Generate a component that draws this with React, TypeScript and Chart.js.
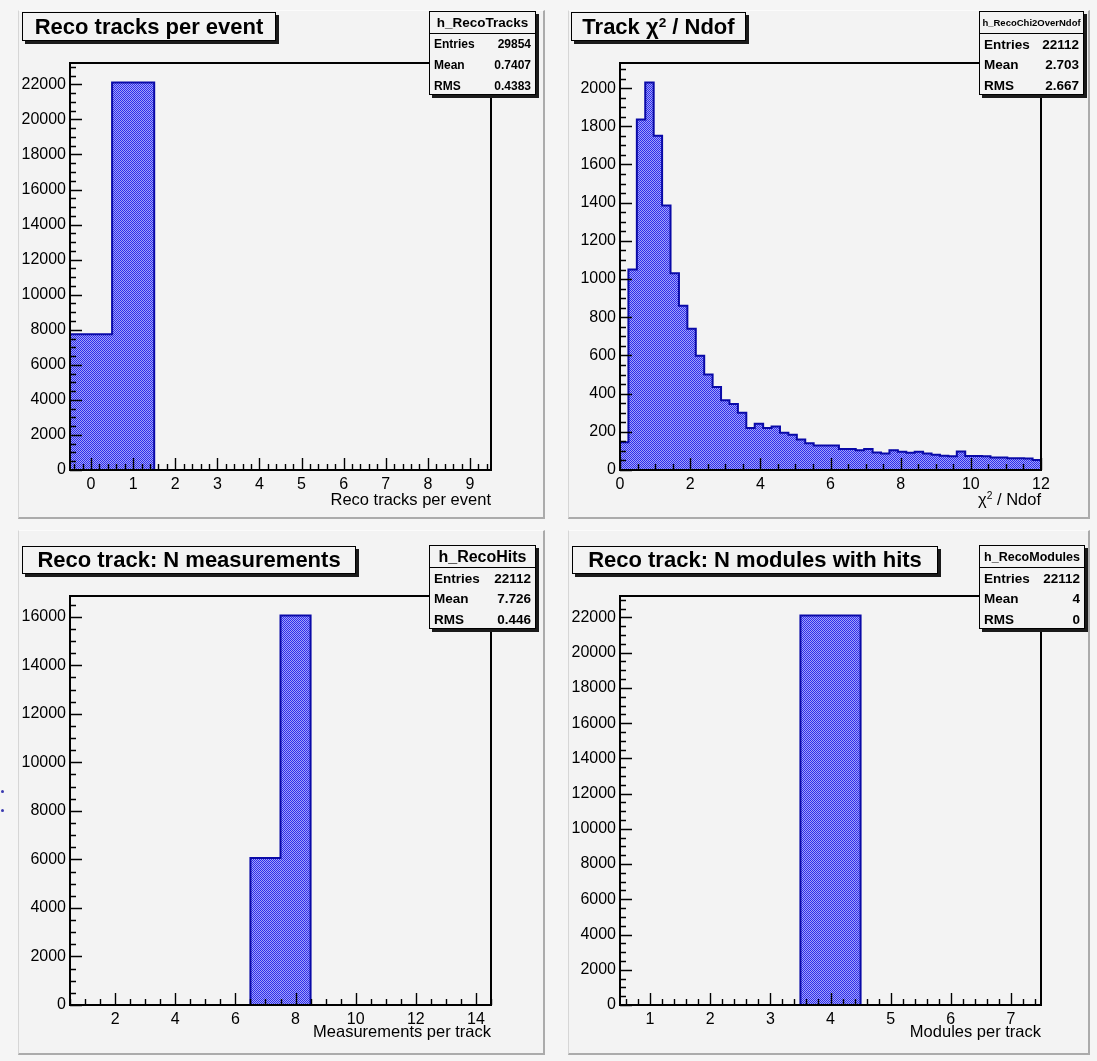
import React, { useEffect, useRef } from "react";
import { Chart, registerables } from "chart.js";

Chart.register(...registerables);

const FONT = '"Liberation Sans", Arial, Helvetica, sans-serif';

// ---------------- Data ----------------
// Panel 1: Reco tracks per event (bins of width 1, centred on integers)
const TRACKS_BINS = [0, 1, 2, 3, 4, 5, 6, 7, 8, 9];
const TRACKS_COUNTS = [7742, 22112, 0, 0, 0, 0, 0, 0, 0, 0];
const TRACKS_X_TICKS = [0, 1, 2, 3, 4, 5, 6, 7, 8, 9];
const TRACKS_Y_TICKS = [0, 2000, 4000, 6000, 8000, 10000, 12000, 14000, 16000, 18000, 20000, 22000];
const TRACKS_STATS = [["Entries", "29854"], ["Mean", "0.7407"], ["RMS", "0.4383"]];

// Panel 2: Track chi2 / Ndof (50 bins from 0 to 12)
const CHI2_BIN_WIDTH = 0.24;
const CHI2_COUNTS = [
  145, 1050, 1835, 2030, 1750, 1385, 1030, 860, 740, 598,
  500, 435, 365, 345, 300, 220, 242, 220, 228, 195,
  185, 160, 140, 128, 128, 128, 110, 110, 104, 110,
  92, 87, 104, 96, 90, 96, 86, 80, 74, 72,
  97, 73, 73, 72, 66, 66, 61, 61, 60, 52,
];
const CHI2_BINS = CHI2_COUNTS.map((_, i) => (i + 0.5) * CHI2_BIN_WIDTH);
const CHI2_X_TICKS = [0, 2, 4, 6, 8, 10, 12];
const CHI2_Y_TICKS = [0, 200, 400, 600, 800, 1000, 1200, 1400, 1600, 1800, 2000];
const CHI2_STATS = [["Entries", "22112"], ["Mean", "2.703"], ["RMS", "2.667"]];

// Panel 3: N measurements per track
const HITS_BINS = [1, 2, 3, 4, 5, 6, 7, 8, 9, 10, 11, 12, 13, 14];
const HITS_COUNTS = [0, 0, 0, 0, 0, 0, 6059, 16053, 0, 0, 0, 0, 0, 0];
const HITS_X_TICKS = [2, 4, 6, 8, 10, 12, 14];
const HITS_Y_TICKS = [0, 2000, 4000, 6000, 8000, 10000, 12000, 14000, 16000];
const HITS_STATS = [["Entries", "22112"], ["Mean", "7.726"], ["RMS", "0.446"]];

// Panel 4: N modules with hits
const MODULES_BINS = [1, 2, 3, 4, 5, 6, 7];
const MODULES_COUNTS = [0, 0, 0, 22112, 0, 0, 0];
const MODULES_X_TICKS = [1, 2, 3, 4, 5, 6, 7];
const MODULES_Y_TICKS = [0, 2000, 4000, 6000, 8000, 10000, 12000, 14000, 16000, 18000, 20000, 22000];
const MODULES_STATS = [["Entries", "22112"], ["Mean", "4"], ["RMS", "0"]];

// ---------------- Panel specs ----------------
type Box = { x: number; y: number; w: number; h: number };
type Frame = { l: number; t: number; r: number; b: number };
type Spec = {
  pad: Box;
  frame: Frame;
  bins: number[];
  counts: number[];
  binWidth: number;
  xMin: number;
  xMax: number;
  yMax: number;
  xTicks: number[];
  yTicks: number[];
  xMinor: number;
  yMinor: number;
  title: React.ReactNode;
  titleBox: Box;
  statsName: string;
  statsNameSize: number;
  statsRowSize: number;
  stats: string[][];
  statsBox: Box;
  xTitle: React.ReactNode;
  xTitleY: number;
};

const Sup = ({ children }: { children: React.ReactNode }) => (
  <sup style={{ fontSize: "0.62em", verticalAlign: "0.55em", lineHeight: 0 }}>{children}</sup>
);

const SPECS: Spec[] = [
  {
    pad: { x: 18, y: 10, w: 527, h: 509 },
    frame: { l: 70, t: 63, r: 491, b: 470 },
    bins: TRACKS_BINS,
    counts: TRACKS_COUNTS,
    binWidth: 1,
    xMin: -0.5,
    xMax: 9.5,
    yMax: 23217.6,
    xTicks: TRACKS_X_TICKS,
    yTicks: TRACKS_Y_TICKS,
    xMinor: 0.2,
    yMinor: 500,
    title: "Reco tracks per event",
    titleBox: { x: 22, y: 12, w: 254, h: 29 },
    statsName: "h_RecoTracks",
    statsNameSize: 13.5,
    statsRowSize: 12,
    stats: TRACKS_STATS,
    statsBox: { x: 429, y: 11, w: 107, h: 84 },
    xTitle: "Reco tracks per event",
    xTitleY: 499,
  },
  {
    pad: { x: 568, y: 10, w: 522, h: 509 },
    frame: { l: 620, t: 63, r: 1041, b: 470 },
    bins: CHI2_BINS,
    counts: CHI2_COUNTS,
    binWidth: CHI2_BIN_WIDTH,
    xMin: 0,
    xMax: 12,
    yMax: 2131.5,
    xTicks: CHI2_X_TICKS,
    yTicks: CHI2_Y_TICKS,
    xMinor: 0.5,
    yMinor: 50,
    title: (
      <span>
        Track χ<Sup>2</Sup> / Ndof
      </span>
    ),
    titleBox: { x: 571, y: 12, w: 175, h: 29 },
    statsName: "h_RecoChi2OverNdof",
    statsNameSize: 9.5,
    statsRowSize: 13.5,
    stats: CHI2_STATS,
    statsBox: { x: 979, y: 11, w: 105, h: 84 },
    xTitle: (
      <span>
        χ<Sup>2</Sup> / Ndof
      </span>
    ),
    xTitleY: 499,
  },
  {
    pad: { x: 18, y: 530, w: 527, h: 525 },
    frame: { l: 70, t: 596, r: 491, b: 1005 },
    bins: HITS_BINS,
    counts: HITS_COUNTS,
    binWidth: 1,
    xMin: 0.5,
    xMax: 14.5,
    yMax: 16855.6,
    xTicks: HITS_X_TICKS,
    yTicks: HITS_Y_TICKS,
    xMinor: 0.5,
    yMinor: 500,
    title: "Reco track: N measurements",
    titleBox: { x: 22, y: 546, w: 334, h: 28 },
    statsName: "h_RecoHits",
    statsNameSize: 16,
    statsRowSize: 13.5,
    stats: HITS_STATS,
    statsBox: { x: 429, y: 545, w: 107, h: 84 },
    xTitle: "Measurements per track",
    xTitleY: 1031,
  },
  {
    pad: { x: 568, y: 530, w: 522, h: 525 },
    frame: { l: 620, t: 596, r: 1041, b: 1005 },
    bins: MODULES_BINS,
    counts: MODULES_COUNTS,
    binWidth: 1,
    xMin: 0.5,
    xMax: 7.5,
    yMax: 23217.6,
    xTicks: MODULES_X_TICKS,
    yTicks: MODULES_Y_TICKS,
    xMinor: 0.2,
    yMinor: 500,
    title: "Reco track: N modules with hits",
    titleBox: { x: 572, y: 546, w: 366, h: 28 },
    statsName: "h_RecoModules",
    statsNameSize: 12.5,
    statsRowSize: 13.5,
    stats: MODULES_STATS,
    statsBox: { x: 979, y: 545, w: 106, h: 84 },
    xTitle: "Modules per track",
    xTitleY: 1031,
  },
];

// ---------------- Plugin: ROOT-like frame and inward ticks ----------------
const rootFrame = {
  id: "rootFrame",
  afterDraw(chart: any, _args: any, opts: any) {
    const { ctx, chartArea: a, scales } = chart;
    const xs = scales.x;
    const ys = scales.y;
    const isMajor = (v: number, majors: number[]) => majors.some((m) => Math.abs(m - v) < 1e-6);
    ctx.save();
    ctx.strokeStyle = "#000";
    ctx.lineWidth = 1.4;
    ctx.beginPath();
    const kx0 = Math.ceil(xs.min / opts.xMinor - 1e-9);
    const kx1 = Math.floor(xs.max / opts.xMinor + 1e-9);
    for (let k = kx0; k <= kx1; k++) {
      const v = k * opts.xMinor;
      const px = Math.round(xs.getPixelForValue(v)) + 0.5;
      const len = isMajor(v, opts.xMajor) ? 12 : 6;
      ctx.moveTo(px, a.bottom);
      ctx.lineTo(px, a.bottom - len);
    }
    const ky0 = Math.ceil(ys.min / opts.yMinor - 1e-9);
    const ky1 = Math.floor(ys.max / opts.yMinor + 1e-9);
    for (let k = ky0; k <= ky1; k++) {
      const v = k * opts.yMinor;
      const py = Math.round(ys.getPixelForValue(v)) + 0.5;
      const len = isMajor(v, opts.yMajor) ? 12 : 6;
      ctx.moveTo(a.left, py);
      ctx.lineTo(a.left + len, py);
    }
    ctx.stroke();
    ctx.lineWidth = 2;
    ctx.strokeRect(a.left, a.top, a.right - a.left, a.bottom - a.top);
    ctx.restore();
  },
};

function makePattern(ctx: CanvasRenderingContext2D) {
  const c = document.createElement("canvas");
  c.width = 2;
  c.height = 2;
  const g = c.getContext("2d")!;
  g.fillStyle = "#a2a2f8";
  g.fillRect(0, 0, 2, 2);
  g.fillStyle = "#2e2eec";
  g.fillRect(0, 0, 1, 1);
  g.fillRect(1, 1, 1, 1);
  return ctx.createPattern(c, "repeat");
}

function HistPanel({ spec }: { spec: Spec }) {
  const ref = useRef<HTMLCanvasElement | null>(null);
  useEffect(() => {
    const canvas = ref.current;
    if (!canvas) return;
    const ctx = canvas.getContext("2d")!;
    const pattern = makePattern(ctx);
    const { pad, frame } = spec;
    const half = spec.binWidth / 2;
    const barData = spec.bins.map((c, i) => ({ x: c, y: spec.counts[i] }));
    const outline: { x: number; y: number }[] = [{ x: spec.bins[0] - half, y: 0 }];
    spec.bins.forEach((c, i) => outline.push({ x: c - half, y: spec.counts[i] }));
    outline.push({ x: spec.bins[spec.bins.length - 1] + half, y: 0 });

    const tickFont = { family: FONT, size: 16 };
    const chart = new Chart(canvas, {
      type: "bar",
      data: {
        datasets: [
          {
            type: "bar",
            data: barData,
            backgroundColor: pattern as any,
            borderWidth: 0,
            barPercentage: 1,
            categoryPercentage: 1,
            order: 2,
          } as any,
          {
            type: "line",
            data: outline,
            stepped: true,
            borderColor: "#0a0aa8",
            borderWidth: 2,
            pointRadius: 0,
            fill: false,
            tension: 0,
            order: 1,
          } as any,
        ],
      },
      options: {
        animation: false,
        responsive: false,
        maintainAspectRatio: false,
        events: [],
        layout: {
          padding: {
            left: 0,
            top: frame.t - pad.y,
            right: pad.x + pad.w - frame.r,
            bottom: 0,
          },
        },
        plugins: {
          legend: { display: false },
          tooltip: { enabled: false },
          title: { display: false },
          rootFrame: {
            xMinor: spec.xMinor,
            yMinor: spec.yMinor,
            xMajor: spec.xTicks,
            yMajor: spec.yTicks,
          },
        } as any,
        scales: {
          x: {
            type: "linear",
            min: spec.xMin,
            max: spec.xMax,
            offset: false,
            grid: { display: false, drawTicks: false, offset: false },
            border: { display: false },
            afterBuildTicks: (s: any) => {
              s.ticks = spec.xTicks.map((v) => ({ value: v }));
            },
            afterFit: (s: any) => {
              s.height = pad.y + pad.h - frame.b;
            },
            ticks: {
              autoSkip: false,
              maxRotation: 0,
              minRotation: 0,
              padding: 5,
              color: "#000",
              font: tickFont,
              callback: (v: any) => String(v),
            },
          },
          y: {
            type: "linear",
            min: 0,
            max: spec.yMax,
            grid: { display: false, drawTicks: false },
            border: { display: false },
            afterBuildTicks: (s: any) => {
              s.ticks = spec.yTicks.map((v) => ({ value: v }));
            },
            afterFit: (s: any) => {
              s.width = frame.l - pad.x;
            },
            ticks: {
              autoSkip: false,
              padding: 4,
              color: "#000",
              font: tickFont,
              callback: (v: any) => String(v),
            },
          },
        } as any,
      },
      plugins: [rootFrame as any],
    });
    return () => chart.destroy();
  }, [spec]);

  const { pad, titleBox, statsBox, frame } = spec;
  const headerH = 22;
  const rowH = (statsBox.h - headerH) / 3;
  return (
    <>
      <div
        style={{
          position: "absolute",
          left: pad.x,
          top: pad.y,
          width: pad.w,
          height: pad.h,
          background: "#f3f3f3",
          boxSizing: "border-box",
          borderTop: "1px solid #fbfbfb",
          borderLeft: "1px solid #d6d6d6",
          borderRight: "2px solid #ababab",
          borderBottom: "2px solid #ababab",
        }}
      />
      <canvas
        ref={ref}
        width={pad.w}
        height={pad.h}
        style={{ position: "absolute", left: pad.x, top: pad.y, width: pad.w, height: pad.h }}
      />
      {/* title box */}
      <div
        style={{
          position: "absolute",
          left: titleBox.x,
          top: titleBox.y,
          width: titleBox.w,
          height: titleBox.h,
          boxSizing: "border-box",
          border: "1.5px solid #000",
          background: "#f3f3f3",
          boxShadow: "3px 3px 0 #1a1a1a",
          fontFamily: FONT,
          fontWeight: "bold",
          fontSize: 22,
          color: "#000",
          display: "flex",
          alignItems: "center",
          justifyContent: "center",
          whiteSpace: "nowrap",
        }}
      >
        {spec.title}
      </div>
      {/* stats box */}
      <div
        style={{
          position: "absolute",
          left: statsBox.x,
          top: statsBox.y,
          width: statsBox.w,
          height: statsBox.h,
          boxSizing: "border-box",
          border: "1px solid #000",
          background: "#f3f3f3",
          boxShadow: "3px 3px 0 #1a1a1a",
          fontFamily: FONT,
          fontWeight: "bold",
          color: "#000",
        }}
      >
        <div
          style={{
            height: headerH - 1,
            borderBottom: "1px solid #000",
            display: "flex",
            alignItems: "center",
            justifyContent: "center",
            fontSize: spec.statsNameSize,
            whiteSpace: "nowrap",
          }}
        >
          {spec.statsName}
        </div>
        {spec.stats.map(([k, v]) => (
          <div
            key={k}
            style={{
              height: rowH,
              display: "flex",
              alignItems: "center",
              justifyContent: "space-between",
              padding: "0 4px",
              fontSize: spec.statsRowSize,
              whiteSpace: "nowrap",
            }}
          >
            <span>{k}</span>
            <span>{v}</span>
          </div>
        ))}
      </div>
      {/* x axis title */}
      <div
        style={{
          position: "absolute",
          right: 1097 - frame.r,
          top: spec.xTitleY - 10,
          height: 20,
          lineHeight: "20px",
          fontFamily: FONT,
          fontSize: 16.5,
          color: "#000",
          whiteSpace: "nowrap",
        }}
      >
        {spec.xTitle}
      </div>
    </>
  );
}

export default function App() {
  return (
    <div
      style={{
        position: "absolute",
        left: 0,
        top: 0,
        width: 1097,
        height: 1061,
        background: "#f5f5f5",
        overflow: "hidden",
      }}
    >
      {SPECS.map((s, i) => (
        <HistPanel key={i} spec={s} />
      ))}
      <div style={{ position: "absolute", left: 1, top: 790, width: 3, height: 3, background: "#3b3bb0", borderRadius: 2 }} />
      <div style={{ position: "absolute", left: 1, top: 809, width: 3, height: 3, background: "#3b3bb0", borderRadius: 2 }} />
    </div>
  );
}
